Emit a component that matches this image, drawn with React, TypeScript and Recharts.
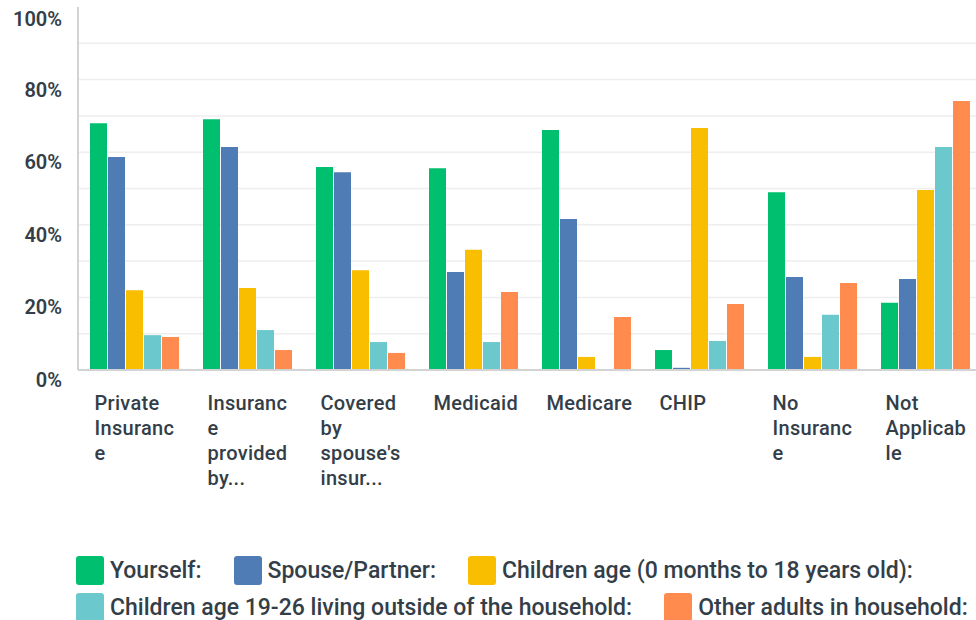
import { BarChart, Bar, XAxis, YAxis, CartesianGrid, Legend } from 'recharts'

const categories = [
  'Private Insurance',
  'Insurance provided by...',
  "Covered by spouse's insur...",
  'Medicaid',
  'Medicare',
  'CHIP',
  'No Insurance',
  'Not Applicable',
]

// wrapped the way the original survey tool wraps them
const tickLines = [
  ['Private', 'Insuranc', 'e'],
  ['Insuranc', 'e', 'provided', 'by...'],
  ['Covered', 'by', "spouse's", 'insur...'],
  ['Medicaid'],
  ['Medicare'],
  ['CHIP'],
  ['No', 'Insuranc', 'e'],
  ['Not', 'Applicab', 'le'],
]

const yourself = [68.0, 69.1, 55.9, 55.6, 66.1, 5.5, 49.0, 18.5]
const spouse = [58.7, 61.4, 54.5, 27.0, 41.6, 0.6, 25.6, 25.1]
const children = [22.0, 22.6, 27.5, 33.1, 3.6, 66.7, 3.6, 49.6]
const olderChildren = [9.6, 11.0, 7.7, 7.7, 0, 8.0, 15.2, 61.4]
const otherAdults = [9.1, 5.5, 4.7, 21.5, 14.6, 18.2, 24.0, 74.1]

const yTicks = [0, 20, 40, 60, 80, 100]
const gridValues = [10, 20, 30, 40, 50, 60, 70, 80, 90]

const series = [
  { key: 'yourself', name: 'Yourself:', color: '#00BF6F' },
  { key: 'spouse', name: 'Spouse/Partner:', color: '#507CB6' },
  { key: 'children', name: 'Children age (0 months to 18 years old):', color: '#F9BE00' },
  { key: 'olderChildren', name: 'Children age 19-26 living outside of the household:', color: '#6BC8CD' },
  { key: 'otherAdults', name: 'Other adults in household:', color: '#FF8B4F' },
]

const legendRows = [[0, 1, 2], [3, 4]]

const data = categories.map((name, i) => ({
  name,
  yourself: yourself[i],
  spouse: spouse[i],
  children: children[i],
  olderChildren: olderChildren[i],
  otherAdults: otherAdults[i],
}))

const TEXT = '#333E48'
const FONT = 'Roboto, "Noto Sans", sans-serif'

function XTick({ x, y, payload }: any) {
  const idx = categories.indexOf(payload.value)
  const lines = tickLines[idx] || [payload.value]
  return (
    <text
      x={x - 40}
      y={y + 40}
      fill={TEXT}
      fontSize={20}
      fontWeight={500}
      letterSpacing={0.3}
      fontFamily={FONT}
      textAnchor="start"
    >
      {lines.map((l, i) => (
        <tspan key={i} x={x - 40} dy={i === 0 ? 0 : 25}>
          {l}
        </tspan>
      ))}
    </text>
  )
}

function YTick({ x, y, payload }: any) {
  return (
    <text x={x - 16} y={y + 17} fill={TEXT} fontSize={20} fontWeight={600} fontFamily={FONT} textAnchor="end">
      {payload.value}%
    </text>
  )
}

function LegendBox() {
  return (
    <div style={{ height: 80, position: 'relative', fontFamily: FONT, color: TEXT }}>
      {legendRows.map((row, r) => (
        <div
          key={r}
          style={{ position: 'absolute', left: 76, top: 16 + r * 37, display: 'flex', alignItems: 'center' }}
        >
          {row.map((si) => (
            <div key={si} style={{ display: 'flex', alignItems: 'center', marginRight: 32 }}>
              <span
                style={{
                  width: 28,
                  height: 29,
                  borderRadius: 3,
                  background: series[si].color,
                  display: 'inline-block',
                  marginRight: 6,
                }}
              />
              <span style={{ fontSize: 23, fontWeight: 500, whiteSpace: 'nowrap' }}>{series[si].name}</span>
            </div>
          ))}
        </div>
      ))}
    </div>
  )
}

export default function App() {
  return (
    <div style={{ position: 'fixed', top: 0, left: 0, width: 976, height: 620, overflow: 'hidden', background: '#fff' }}>
      <BarChart
        width={990}
        height={620}
        data={data}
        margin={{ top: 7, right: 8, bottom: 0, left: 0 }}
        barSize={17}
        barGap={1}
      >
        <CartesianGrid vertical={false} horizontalValues={gridValues} stroke="#EEEEEE" strokeWidth={1.5} />
        <XAxis
          dataKey="name"
          interval={0}
          height={170}
          tickLine={false}
          tickSize={0}
          tickMargin={0}
          tick={<XTick />}
          axisLine={{ stroke: '#D3D3D3', strokeWidth: 2 }}
        />
        <YAxis
          domain={[0, 100]}
          ticks={yTicks}
          width={78}
          tickLine={false}
          tickSize={0}
          tickMargin={0}
          tick={<YTick />}
          axisLine={{ stroke: '#D3D3D3', strokeWidth: 2 }}
        />
        <Legend verticalAlign="bottom" content={<LegendBox />} />
        {series.map((s) => (
          <Bar key={s.key} dataKey={s.key} name={s.name} fill={s.color} isAnimationActive={false} />
        ))}
      </BarChart>
    </div>
  )
}
